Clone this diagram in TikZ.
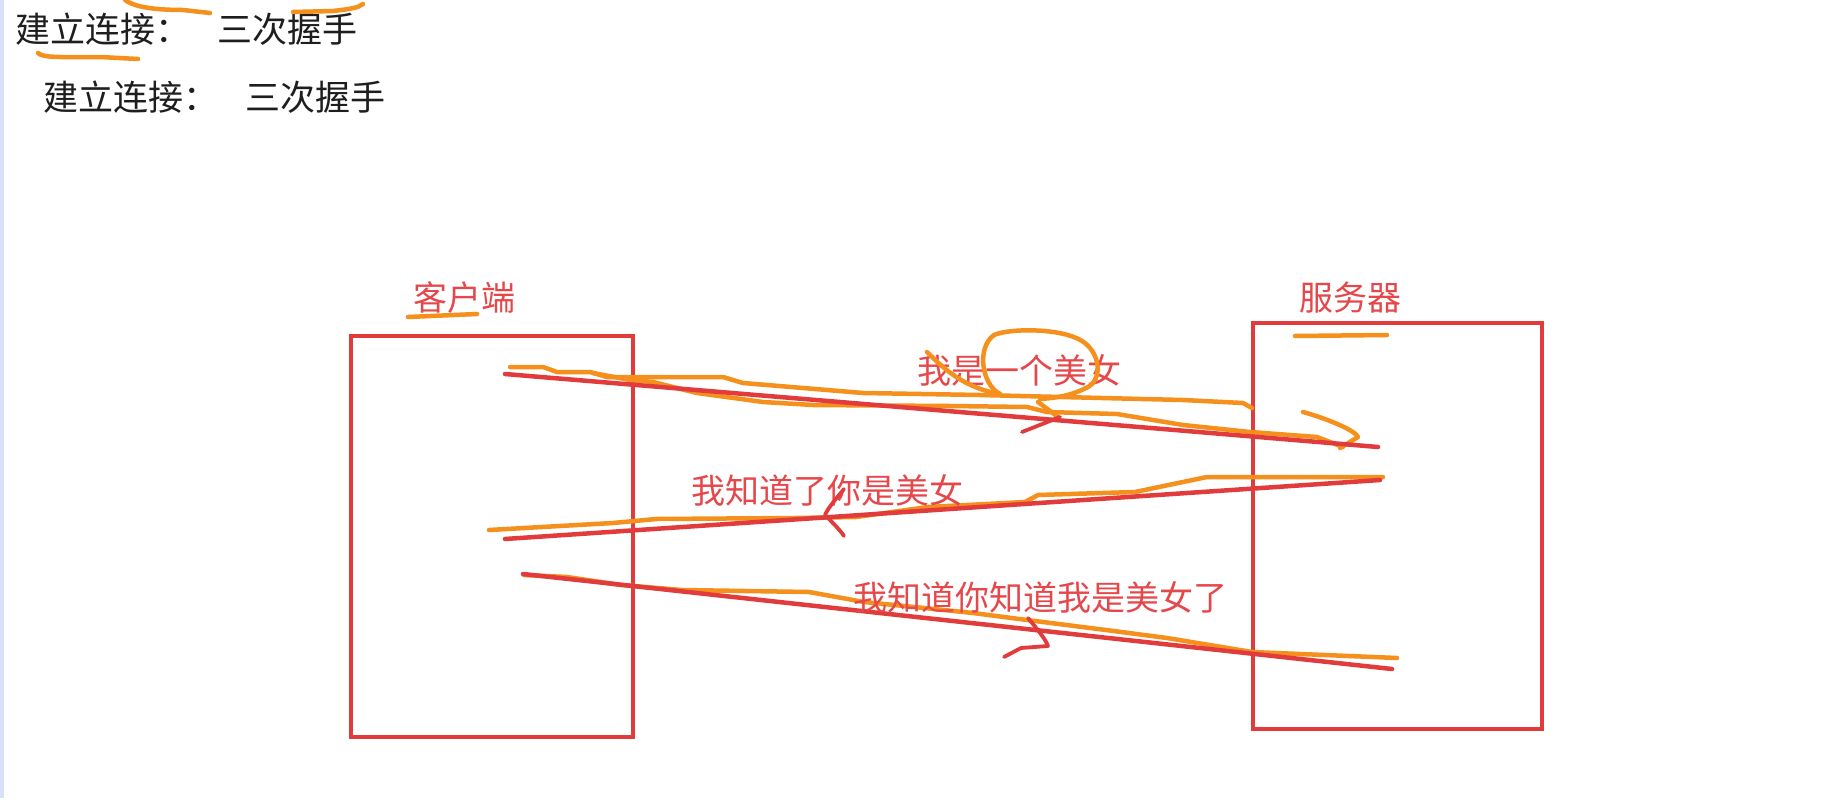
\documentclass[tikz,border=0pt]{standalone}
\usepackage{fontspec}
\setmainfont{Noto Sans CJK SC}
\definecolor{boxred}{HTML}{E23B3B}
\definecolor{txtred}{HTML}{E5474A}
\definecolor{pen}{HTML}{F5901C}
\definecolor{ink}{HTML}{1E1E1E}
\definecolor{edge}{HTML}{D5E2F7}
\tikzset{
  titletext/.style={anchor=west, inner sep=0pt, text=ink, font=\fontsize{35}{40}\selectfont},
  redtext/.style={inner sep=0pt, text=txtred, font=\fontsize{34}{40}\selectfont},
  hostbox/.style={draw=boxred, line width=3.8pt, inner sep=0pt},
  redline/.style={draw=boxred, line width=4.5pt, line cap=round},
  orangeline/.style={draw=pen, line width=4.5pt, line cap=round, line join=round},
  headline/.style={draw=boxred, line width=3.8pt, line cap=round, line join=round},
}
\begin{document}
\begin{tikzpicture}[x=1pt,y=-1pt]
\useasboundingbox (0,0) rectangle (1834,798);
\fill[white] (0,0) rectangle (1834,798);
\fill[edge] (0,0) rectangle (4,798);

% titles
\node[titletext] (t1) at (15,29) {建立连接：\hspace{27pt}三次握手};
\node[titletext] (t2) at (43,97) {建立连接：\hspace{27pt}三次握手};
% title marks
\draw[orangeline] (38,53) .. controls (43,58) and (60,57) .. (100,57) -- (138,59);
\draw[orangeline] (125,0) .. controls (133,6) and (150,10) .. (183,10) -- (210,13);
\draw[orangeline] (293,12) -- (333,11) .. controls (350,9) and (358,8) .. (363,4);

% hosts
\node[hostbox, minimum width=282pt, minimum height=401pt] (client) at (492,536.5) {};
\node[hostbox, minimum width=289pt, minimum height=406pt] (server) at (1397.5,526) {};
\node[redtext] (clientlbl) at (464,298) {客户端};
\node[redtext] (serverlbl) at (1350,298) {服务器};
\draw[orangeline] (408,317) -- (477,314);
\draw[orangeline] (1295,336) -- (1387,335);

% connection points
\coordinate (a1s) at (505,374);
\coordinate (a1e) at (1378,447);
\coordinate (a2s) at (1380,480);
\coordinate (a2e) at (505,539);
\coordinate (a3s) at (523,574);
\coordinate (a3e) at (1392,669);

% message 1
\draw[orangeline] (510,367) -- (543,367) -- (557,372) -- (590,372) -- (607,377) -- (723,377)
  -- (743,383) -- (863,393) -- (980,395) -- (1183,400) -- (1243,403) -- (1252,408);
\draw[orangeline] (593,373) -- (630,380) -- (653,382) -- (697,393) -- (763,402) -- (813,405)
  -- (950,406) -- (1027,407) -- (1047,412) -- (1117,414) -- (1183,425) -- (1250,432)
  -- (1317,437) -- (1343,447);
\draw[orangeline] (1303,412) .. controls (1325,418) and (1355,430) .. (1358,437) -- (1340,448);
\draw[redline] (a1s) -- (a1e);
\node[redtext] (m1) at (1019,370) {我是一个美女};
\draw[orangeline] (1000,394) .. controls (982,385) and (976,348) .. (994,335)
  .. controls (1010,328) and (1062,328) .. (1082,341)
  .. controls (1100,352) and (1104,380) .. (1086,388)
  .. controls (1070,396) and (1055,398) .. (1040,399);
\draw[orangeline] (927,352) .. controls (945,370) and (965,388) .. (1000,394);
\draw[orangeline] (1038,402) -- (1058,417);
\draw[headline] (1022,432) -- (1060,417);

% message 2
\draw[orangeline] (489,530) -- (613,523) -- (656,519) -- (795,518) -- (856,517) -- (928,507)
  -- (1025,502) -- (1038,495) -- (1135,492) -- (1207,477) -- (1383,477);
\draw[redline] (a2s) -- (a2e);
\node[redtext] (m2) at (827,490) {我知道了你是美女};
\draw[headline] (844,489) .. controls (835,500) and (828,508) .. (825,515)
  .. controls (832,522) and (840,530) .. (844,536);

% message 3
\draw[orangeline] (524,575) -- (567,577) -- (621,585) -- (682,590) -- (809,592) -- (864,602)
  -- (924,608) -- (973,613) -- (1027,620) -- (1106,630) -- (1167,638) -- (1252,652) -- (1397,658);
\draw[redline] (a3s) -- (a3e);
\node[redtext] (m3) at (1040,597) {我知道你知道我是美女了};
\draw[headline] (1028,618) .. controls (1038,630) and (1046,640) .. (1048,646)
  -- (1021,648) -- (1004,657);
\end{tikzpicture}
\end{document}
